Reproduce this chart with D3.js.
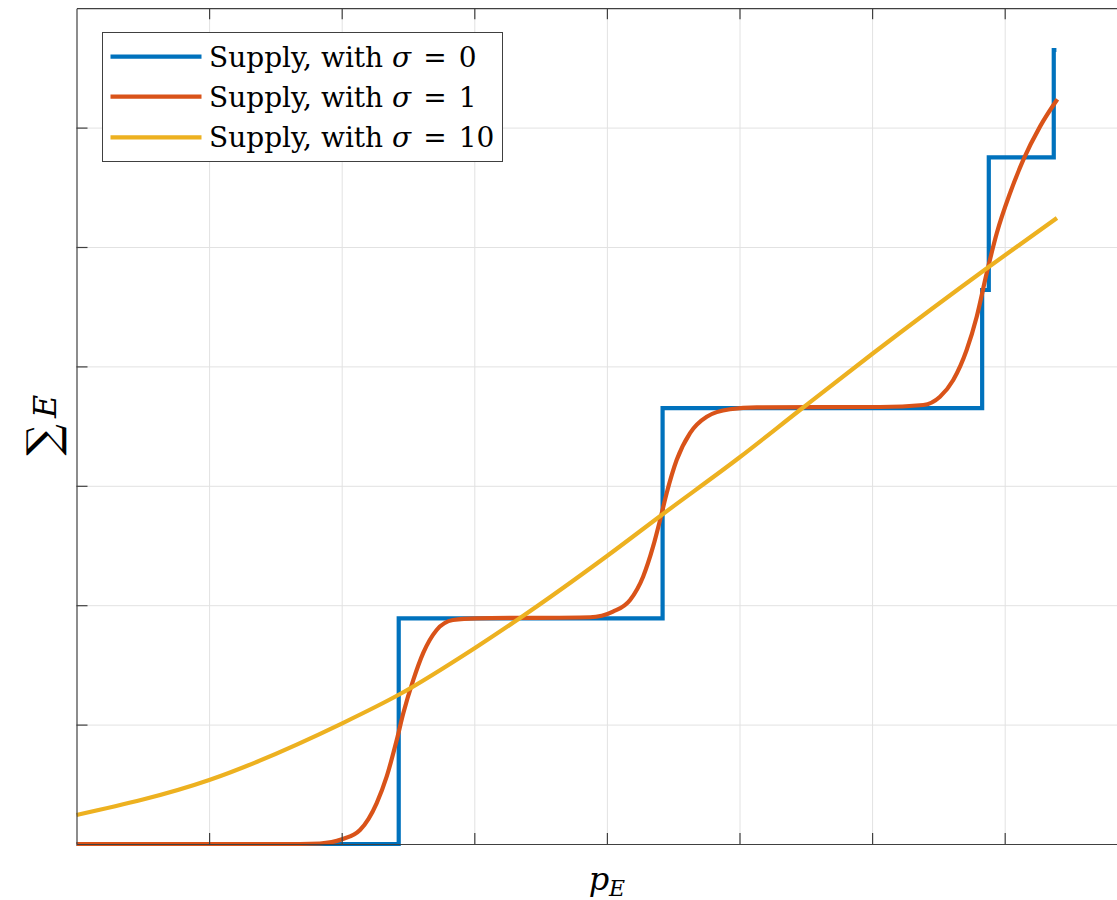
<!DOCTYPE html>
<html>
<head>
<meta charset="utf-8">
<script src="https://cdn.jsdelivr.net/npm/d3@7"></script>
<style>
  body { margin: 0; background: #fff; }
  svg { display: block; }
</style>
</head>
<body>
<div id="chart"></div>
<script>
// series (x in price units, y in cumulative energy units)
const blue_x = [0, 2.43, 4.42, 6.83, 6.88, 7.37, 7.39];
const blue_y = [0, 1.89, 3.65, 4.64, 5.75, 6.65, 6.65];

const red_x = [0, 1.686, 1.836, 2.002, 2.138, 2.264, 2.339, 2.415, 2.465, 2.540, 2.615, 2.716, 2.839, 3.018,
    3.873, 4.046, 4.175, 4.273, 4.348, 4.401, 4.451, 4.526, 4.627, 4.753, 4.928, 5.130,
    6.060, 6.386, 6.512, 6.612, 6.713, 6.789, 6.864, 6.940, 7.040, 7.140, 7.266, 7.397];
const red_y = [0, 0, 0.004, 0.039, 0.117, 0.343, 0.564, 0.871, 1.097, 1.374, 1.600, 1.792, 1.876, 1.890,
    1.899, 1.946, 2.044, 2.239, 2.490, 2.714, 2.940, 3.216, 3.442, 3.579, 3.641, 3.657,
    3.660, 3.677, 3.746, 3.886, 4.137, 4.416, 4.780, 5.115, 5.450, 5.729, 6.008, 6.237];

const yellow_x = [0, 1.001, 2.008, 2.440, 3.005, 3.345, 4.001, 4.423, 5.004, 5.456, 6.000, 6.889, 7.394];
const yellow_y = [0.243, 0.536, 1.013, 1.256, 1.642, 1.893, 2.412, 2.764, 3.241, 3.635, 4.104, 4.841, 5.243];

const x_ticks = [0, 1, 2, 3, 4, 5, 6, 7, 8];
const y_ticks = [0, 1, 2, 3, 4, 5, 6, 7];

const series_names = ['Supply, with ', 'Supply, with ', 'Supply, with '];
const sigma_values = ['0', '1', '10'];
const series_colors = ['#0072BD', '#D95319', '#EDB120'];

const width = 1117, height = 900;
const margin = {left: 76.5, top: 8.2, right: 1137.3, bottom: 844};
const serif = 'DejaVu Serif, Liberation Serif, serif';

let svg = d3.select('#chart').append('svg')
    .attr('width', width)
    .attr('height', height);

let x = d3.scaleLinear().domain([0, 8]).range([margin.left, margin.right]);
let y = d3.scaleLinear().domain([0, 7]).range([margin.bottom, margin.top]);

// grid
svg.append('g')
    .attr('class', 'grid')
    .attr('transform', 'translate(0,' + margin.bottom + ')')
    .call(d3.axisBottom(x).tickValues(x_ticks.slice(1, -1)).tickSize(-(margin.bottom - margin.top)).tickFormat(''))
    .call(g => g.select('.domain').remove());

svg.append('g')
    .attr('class', 'grid')
    .attr('transform', 'translate(' + margin.left + ',0)')
    .call(d3.axisLeft(y).tickValues(y_ticks.slice(1, -1)).tickSize(-(margin.right - margin.left)).tickFormat(''))
    .call(g => g.select('.domain').remove());

svg.selectAll('.grid line').attr('stroke', '#e2e2e2').attr('stroke-width', 1);

// lines
function make_points(xs, ys) {
    return xs.map((v, i) => [v, ys[i]]);
}

let line_step = d3.line().x(d => x(d[0])).y(d => y(d[1])).curve(d3.curveStepAfter);
let line_smooth = d3.line().x(d => x(d[0])).y(d => y(d[1])).curve(d3.curveMonotoneX);

let plot = svg.append('g');

plot.append('path')
    .datum(make_points(blue_x, blue_y))
    .attr('d', line_step)
    .attr('fill', 'none')
    .attr('stroke', series_colors[0])
    .attr('stroke-width', 4.2)
    .attr('stroke-linejoin', 'miter');

plot.append('path')
    .datum(make_points(red_x, red_y))
    .attr('d', line_smooth)
    .attr('fill', 'none')
    .attr('stroke', series_colors[1])
    .attr('stroke-width', 4.2);

plot.append('path')
    .datum(make_points(yellow_x, yellow_y))
    .attr('d', line_smooth)
    .attr('fill', 'none')
    .attr('stroke', series_colors[2])
    .attr('stroke-width', 4.2);

// axes box with inward ticks, no labels
const axis_color = '#404040';
const tick_len = 11;

svg.append('g')
    .attr('class', 'box')
    .attr('transform', 'translate(0,' + margin.bottom + ')')
    .call(d3.axisBottom(x).tickValues(x_ticks.slice(1, -1)).tickSize(-tick_len).tickFormat('').tickSizeOuter(0));
svg.append('g')
    .attr('class', 'box')
    .attr('transform', 'translate(0,' + margin.top + ')')
    .call(d3.axisTop(x).tickValues(x_ticks.slice(1, -1)).tickSize(-tick_len).tickFormat('').tickSizeOuter(0));
svg.append('g')
    .attr('class', 'box')
    .attr('transform', 'translate(' + margin.left + ',0)')
    .call(d3.axisLeft(y).tickValues(y_ticks.slice(1, -1)).tickSize(-tick_len).tickFormat('').tickSizeOuter(0));
svg.selectAll('.box .domain, .box .tick line').attr('stroke', axis_color).attr('stroke-width', 1.2);

// axis labels
svg.append('text')
    .attr('x', x(4))
    .attr('y', 890)
    .attr('text-anchor', 'middle')
    .attr('font-family', serif)
    .attr('font-size', 32)
    .attr('font-style', 'italic')
    .text('p')
    .append('tspan')
    .attr('font-size', 22)
    .attr('dy', 6)
    .text('E');

let ylab = svg.append('text')
    .attr('transform', 'translate(58,' + (y(3.5) - 1) + ') rotate(-90)')
    .attr('text-anchor', 'middle')
    .attr('font-family', serif);
ylab.append('tspan').attr('font-size', 44).text('\u2211');
ylab.append('tspan').attr('font-size', 32).attr('font-style', 'italic').attr('dx', 6).attr('dy', -2).text('E');

// legend
let legend = svg.append('g');
legend.append('rect')
    .attr('x', 102.5).attr('y', 32.5)
    .attr('width', 400).attr('height', 129)
    .attr('fill', '#fff')
    .attr('stroke', '#404040')
    .attr('stroke-width', 1);

const legend_rows = [56.7, 96.7, 137.3];
for (let i = 0; i < 3; i++) {
    legend.append('line')
        .attr('x1', 110.5).attr('x2', 201.5)
        .attr('y1', legend_rows[i]).attr('y2', legend_rows[i])
        .attr('stroke', series_colors[i])
        .attr('stroke-width', 4.2);
    let t = legend.append('text')
        .attr('x', 209)
        .attr('y', legend_rows[i] + 10)
        .attr('font-family', serif)
        .attr('font-size', 28)
        .attr('fill', '#000');
    t.append('tspan').text(series_names[i]);
    t.append('tspan').attr('font-style', 'italic').text('\u03c3');
    t.append('tspan').attr('dx', 12).text('=');
    t.append('tspan').attr('dx', 12).text(sigma_values[i]);
}
</script>
</body>
</html>
